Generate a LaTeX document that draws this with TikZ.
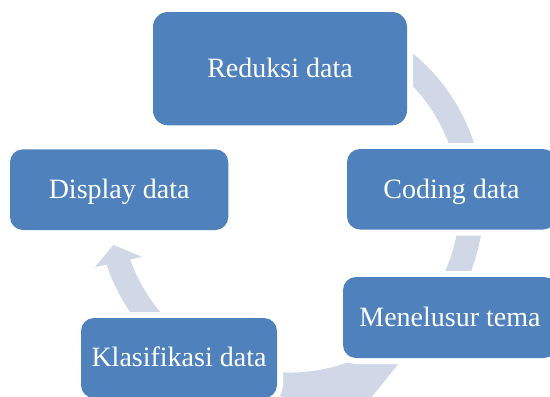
\documentclass[tikz,border=0pt]{standalone}
\usepackage{fontspec}
\setmainfont{Liberation Serif}
\usetikzlibrary{backgrounds}
\definecolor{boxblue}{RGB}{79,129,189}
\definecolor{arcblue}{RGB}{208,216,232}
\begin{document}
\begin{tikzpicture}[x=1pt,y=1pt,
  box/.style={rectangle, fill=boxblue, rounded corners=13pt,
    preaction={draw=white, line width=12pt},
    text=white, font=\fontsize{28}{33}\selectfont,
    text height=17.6pt, text depth=0pt, inner sep=0pt, align=center},
  band/.style={draw=arcblue, line width=24pt},
  headfill/.style={fill=arcblue}]
\useasboundingbox (0,0) rectangle (550,-397);
% boxes
\node[box, minimum width=254pt, minimum height=113.3pt, rounded corners=15pt] (red) at (280,-68.65) {Reduksi data};
\node[box, minimum width=209pt, minimum height=80.5pt] (cod) at (451.5,-189.25) {Coding data};
\node[box, minimum width=214pt, minimum height=81pt] (men) at (450,-317.5) {Menelusur tema};
\node[box, minimum width=196pt, minimum height=80pt] (kla) at (179,-358) {Klasifikasi data};
\node[box, minimum width=218.3pt, minimum height=80.7pt] (dis) at (119.15,-189.65) {Display data};
% continuous cycle arrow behind the boxes
\begin{scope}[on background layer]
\fill[white] (0,0) rectangle (550,-397);
\coordinate (O) at (290,-203);
\draw[band] ([shift={(O)}]65:181.5) arc[start angle=65, end angle=-162, radius=181.5];
\fill[headfill] ([shift={(O)}]-161.8:205.5) -- ([shift={(O)}]-166.65:181.5) -- ([shift={(O)}]-160:157.5) -- cycle;
\fill[headfill] (400,-362) -- (366,-404) -- (282,-404) -- (282,-385) -- (340,-378) -- (380,-366) -- cycle;
\end{scope}
\end{tikzpicture}
\end{document}
